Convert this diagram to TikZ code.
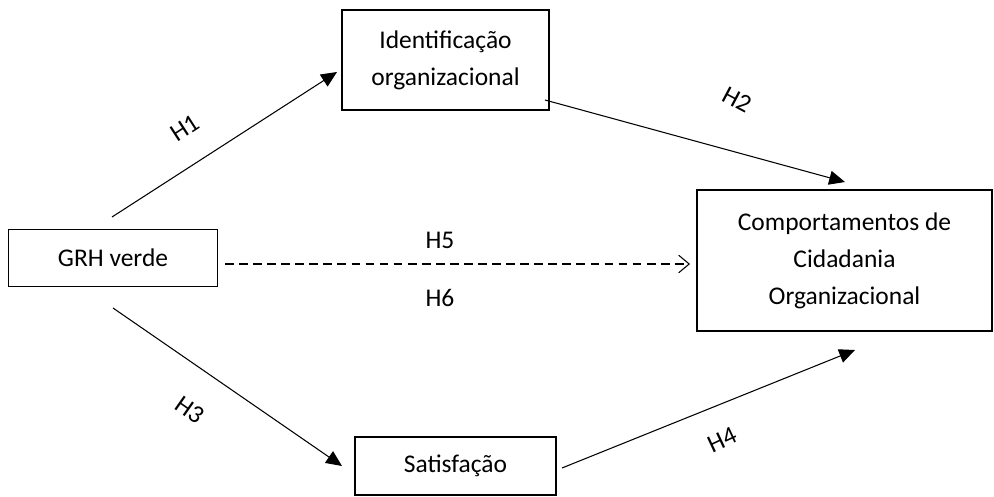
\documentclass[tikz,border=0pt]{standalone}
\usepackage{fontspec}
\setmainfont{Carlito}
\usetikzlibrary{arrows.meta}

\tikzset{
  box/.style={draw, line width=0.9pt, align=center, inner sep=2pt,
    font=\fontsize{14.5}{21}\selectfont},
  hyp/.style={font=\fontsize{14.5}{21}\selectfont},
  link/.style={line width=0.6pt, -{Triangle[length=9pt,width=8pt]}},
  direct/.style={line width=0.6pt, dashed, dash pattern=on 5pt off 3pt, -{Straight Barb[length=6pt,width=10pt]}}
}

\begin{document}
\begin{tikzpicture}
	\useasboundingbox (0,0) rectangle (19.88,9.92);
	% boxes
	\node[box, minimum width=4.18cm, minimum height=1.14cm] (grh) at (2.26,4.76) {GRH verde};
	\node[box, minimum width=4.14cm, minimum height=2.0cm] (ident) at (8.91,8.72) {Identificação\\organizacional};
	\node[box, minimum width=5.9cm, minimum height=2.82cm] (cco) at (16.89,4.71) {Comportamentos de\\Cidadania\\Organizacional};
	\node[box, minimum width=4.02cm, minimum height=1.16cm] (sat) at (9.11,0.6) {Satisfação};
	% arrow ends
	\coordinate (h1s) at (2.24,5.58);
	\coordinate (h1e) at (6.74,8.48);
	\coordinate (h2s) at (10.9,7.92);
	\coordinate (h2e) at (16.9,6.28);
	\coordinate (h5s) at (4.5,4.64);
	\coordinate (h5e) at (13.8,4.64);
	\coordinate (h3s) at (2.26,3.76);
	\coordinate (h3e) at (6.84,0.6);
	\coordinate (h4s) at (11.24,0.56);
	\coordinate (h4e) at (17.1,2.92);
	\draw [link] (h1s) -- (h1e);
	\draw [link] (h2s) -- (h2e);
	\draw [direct] (h5s) -- (h5e);
	\draw [link] (h3s) -- (h3e);
	\draw [link] (h4s) -- (h4e);
	% labels
	\node[hyp, rotate=33] (l1) at (3.7,7.36) {H1};
	\node[hyp, rotate=-28] (l2) at (14.74,7.92) {H2};
	\node[hyp] (l5) at (8.8,5.12) {H5};
	\node[hyp] (l6) at (8.8,3.96) {H6};
	\node[hyp, rotate=-35] (l3) at (3.8,1.72) {H3};
	\node[hyp, rotate=25] (l4) at (14.44,1.12) {H4};
\end{tikzpicture}
\end{document}
